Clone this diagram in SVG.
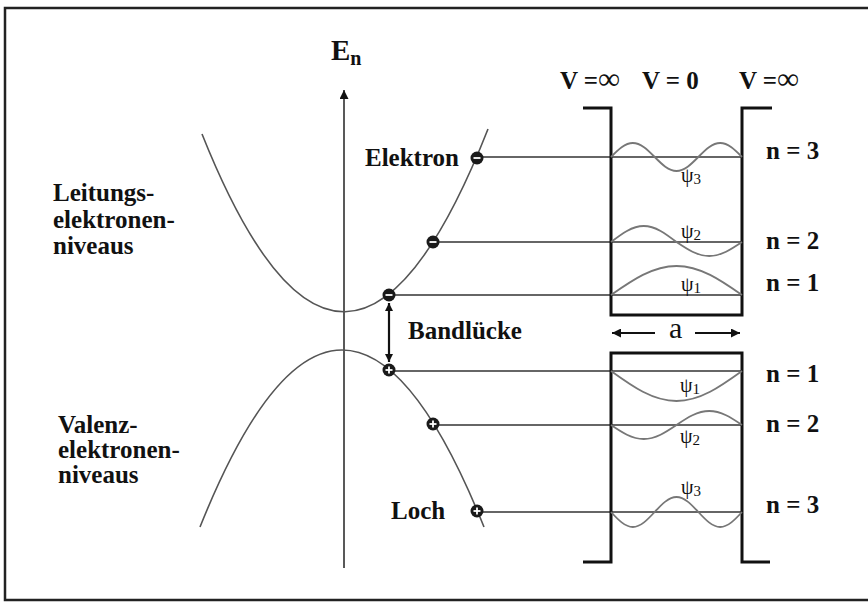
<svg xmlns="http://www.w3.org/2000/svg" width="868" height="603" viewBox="0 0 868 603" font-family="'Liberation Serif', 'DejaVu Serif', serif">
<style>
text{font-family:'Liberation Serif','DejaVu Serif',serif}
.lbl{font-weight:bold;font-size:25px;fill:#111}
.psi{font-size:20px;fill:#111}
.sub{font-size:15px}
.inf{font-weight:normal;font-size:31px}
.band{fill:none;stroke:#555;stroke-width:1.6}
.wave{fill:none;stroke:#777;stroke-width:1.8}
.lvl{stroke:#333;stroke-width:1.5}
.wall{fill:none;stroke:#111;stroke-width:3}
.dot{fill:#1a1a1a}
.sgn{stroke:#fff;stroke-width:1.8}
</style>
<defs>
<marker id="ah" viewBox="0 0 10 10" refX="10" refY="5" markerWidth="10" markerHeight="8" markerUnits="userSpaceOnUse" orient="auto-start-reverse">
<path d="M0,0 L10,5 L0,10 z" fill="#111"/>
</marker>
<marker id="ahb" viewBox="0 0 10 10" refX="10" refY="5" markerWidth="13" markerHeight="9" markerUnits="userSpaceOnUse" orient="auto">
<path d="M0,0 L10,5 L0,10 z" fill="#111"/>
</marker>
</defs>
<rect width="868" height="603" fill="#fff"/>
<path id="frame" d="M872,8 H5 V600 H872" fill="none" stroke="#222" stroke-width="2.5"/>

<g id="axis">
<line x1="344" y1="568" x2="344" y2="90" stroke="#222" stroke-width="1.5" marker-end="url(#ahb)"/>
<text class="lbl" x="331" y="60" style="font-size:29px">E<tspan style="font-size:20px" dy="5">n</tspan></text>
</g>

<g id="conduction-band">
<path class="band" d="M202,134 Q345,492 488,129"/>
<text class="lbl" x="53" y="201">Leitungs-</text>
<text class="lbl" x="53" y="228">elektronen-</text>
<text class="lbl" x="53" y="254">niveaus</text>
</g>
<g id="valence-band">
<path class="band" d="M200,527 Q342,173 484,527"/>
<text class="lbl" x="58" y="433">Valenz-</text>
<text class="lbl" x="58" y="458">elektronen-</text>
<text class="lbl" x="58" y="483">niveaus</text>
</g>

<g id="connectors">
<line class="lvl" x1="477" y1="157" x2="742" y2="157"/>
<line class="lvl" x1="433" y1="242" x2="742" y2="242"/>
<line class="lvl" x1="389" y1="295" x2="742" y2="295"/>
<line class="lvl" x1="389" y1="371" x2="742" y2="371"/>
<line class="lvl" x1="433" y1="425" x2="742" y2="425"/>
<line class="lvl" x1="477" y1="512" x2="742" y2="512"/>
<line x1="389" y1="303" x2="389" y2="362" stroke="#111" stroke-width="2.2" marker-start="url(#ah)" marker-end="url(#ah)"/>
<line x1="655" y1="333" x2="612" y2="333" stroke="#111" stroke-width="2" marker-end="url(#ahb)"/>
<line x1="695" y1="333" x2="740" y2="333" stroke="#111" stroke-width="2" marker-end="url(#ahb)"/>
</g>

<g id="electron-3">
<circle class="dot" cx="477" cy="158" r="6.5"/><line class="sgn" x1="473.5" y1="158" x2="480.5" y2="158"/>
<text class="lbl" x="365" y="166">Elektron</text>
</g>
<g id="electron-2">
<circle class="dot" cx="433" cy="242" r="6.5"/><line class="sgn" x1="429.5" y1="242" x2="436.5" y2="242"/>
</g>
<g id="electron-1">
<circle class="dot" cx="389" cy="295" r="6.5"/><line class="sgn" x1="385.5" y1="295" x2="392.5" y2="295"/>
</g>
<g id="hole-1">
<circle class="dot" cx="389" cy="370" r="6.5"/><line class="sgn" x1="385.5" y1="370" x2="392.5" y2="370"/><line class="sgn" x1="389" y1="366.5" x2="389" y2="373.5"/>
</g>
<g id="hole-2">
<circle class="dot" cx="433" cy="424" r="6.5"/><line class="sgn" x1="429.5" y1="424" x2="436.5" y2="424"/><line class="sgn" x1="433" y1="420.5" x2="433" y2="427.5"/>
</g>
<g id="hole-3">
<circle class="dot" cx="477" cy="511" r="6.5"/><line class="sgn" x1="473.5" y1="511" x2="480.5" y2="511"/><line class="sgn" x1="477" y1="507.5" x2="477" y2="514.5"/>
<text class="lbl" x="391" y="519">Loch</text>
</g>
<g id="bandgap-label">
<text class="lbl" x="408" y="339">Bandlücke</text>
</g>

<g id="upper-well">
<path class="wall" d="M583,108 H611 V315 H742 V108 H772"/>
<text class="lbl" x="560" y="89">V =<tspan class="inf">∞</tspan></text>
<text class="lbl" x="642" y="89">V = 0</text>
<text class="lbl" x="739" y="89">V =<tspan class="inf">∞</tspan></text>
<path class="wave" d="M611,157 C618.1,149.8 625,143 632.83,143 C640.7,143 647.5,149.8 654.67,157 C661.8,164.2 668.6,171 676.5,171 C684.4,171 691.2,164.2 698.33,157 C705.5,149.8 712.3,143 720.17,143 C728.1,143 734.9,149.8 742,157"/>
<path class="wave" d="M611,242 C621.7,233.8 631.9,226 643.75,226 C655.6,226 665.8,233.8 676.5,242 C687.2,249.2 697.4,256 709.25,256 C721.1,256 731.3,249.2 742,242"/>
<path class="wave" d="M611,295 C632.4,280.1 652.8,266 676.5,266 C700.2,266 720.6,280.1 742,295"/>
<text class="psi" x="681" y="182">ψ<tspan class="sub" dy="2">3</tspan></text>
<text class="psi" x="681" y="238">ψ<tspan class="sub" dy="2">2</tspan></text>
<text class="psi" x="681" y="291">ψ<tspan class="sub" dy="2">1</tspan></text>
<text class="lbl" x="766" y="159">n = 3</text>
<text class="lbl" x="766" y="249">n = 2</text>
<text class="lbl" x="766" y="291">n = 1</text>
<text x="669" y="338" style="font-size:30px;fill:#111">a</text>
</g>

<g id="lower-well">
<path class="wall" d="M583,562 H611 V353 H742 V562 H770"/>
<path class="wave" d="M611,371 C632.4,386.4 652.8,401 676.5,401 C700.2,401 720.6,386.4 742,371"/>
<path class="wave" d="M611,425 C621.7,432.2 631.9,439 643.75,439 C655.6,439 665.8,432.2 676.5,425 C687.2,417.8 697.4,411 709.25,411 C721.1,411 731.3,417.8 742,425"/>
<path class="wave" d="M611,512 C618.1,519.7 625,527 632.83,527 C640.7,527 647.5,519.7 654.67,512 C661.8,504.3 668.6,497 676.5,497 C684.4,497 691.2,504.3 698.33,512 C705.5,519.7 712.3,527 720.17,527 C728.1,527 734.9,519.7 742,512"/>
<text class="psi" x="680" y="392">ψ<tspan class="sub" dy="2">1</tspan></text>
<text class="psi" x="680" y="443">ψ<tspan class="sub" dy="2">2</tspan></text>
<text class="psi" x="681" y="494">ψ<tspan class="sub" dy="2">3</tspan></text>
<text class="lbl" x="766" y="382">n = 1</text>
<text class="lbl" x="766" y="432">n = 2</text>
<text class="lbl" x="766" y="513">n = 3</text>
</g>
</svg>
